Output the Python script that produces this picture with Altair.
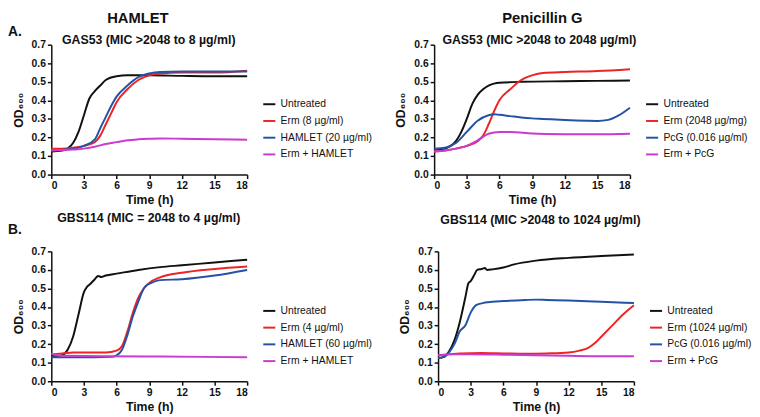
import altair as alt
import pandas as pd

FONT = "Liberation Sans"

# ---------------- Panel A left: GAS53, HAMLET ----------------
a1_untreated_t = [0, 1, 1.5, 2, 2.5, 3, 3.5, 4, 4.5, 5, 6, 7, 8, 9, 12, 15, 18]
a1_untreated_v = [0.125, 0.13, 0.14, 0.17, 0.23, 0.32, 0.41, 0.45, 0.48, 0.51, 0.53, 0.535, 0.535, 0.535, 0.532, 0.53, 0.53]
a1_erm_t = [0, 1, 2, 3, 4, 4.5, 5, 5.5, 6, 7, 8, 9, 10, 12, 15, 18]
a1_erm_v = [0.14, 0.14, 0.145, 0.155, 0.175, 0.21, 0.27, 0.33, 0.39, 0.46, 0.51, 0.535, 0.545, 0.55, 0.55, 0.56]
a1_ham_t = [0, 2, 3, 4, 4.5, 5, 5.5, 6, 7, 8, 9, 10, 12, 15, 18]
a1_ham_v = [0.13, 0.14, 0.155, 0.19, 0.25, 0.31, 0.37, 0.42, 0.48, 0.525, 0.545, 0.553, 0.555, 0.555, 0.555]
a1_combo_t = [0, 2, 3, 4, 5, 6, 7, 8, 9, 10, 12, 15, 18]
a1_combo_v = [0.13, 0.135, 0.14, 0.15, 0.165, 0.175, 0.185, 0.19, 0.193, 0.195, 0.193, 0.19, 0.188]
a1_labels = ["Untreated", "Erm (8 µg/ml)", "HAMLET (20 µg/ml)", "Erm + HAMLET"]

# ---------------- Panel A right: GAS53, Penicillin G ----------------
a2_untreated_t = [0, 1, 2, 2.5, 3, 3.5, 4, 4.5, 5, 5.5, 6, 8, 12, 15, 18]
a2_untreated_v = [0.13, 0.14, 0.18, 0.23, 0.3, 0.38, 0.43, 0.46, 0.48, 0.49, 0.495, 0.5, 0.503, 0.505, 0.507]
a2_erm_t = [0, 1, 2, 3, 4, 4.5, 5, 5.5, 6, 7, 8, 9, 10, 12, 15, 18]
a2_erm_v = [0.125, 0.13, 0.14, 0.155, 0.18, 0.21, 0.27, 0.34, 0.4, 0.46, 0.51, 0.535, 0.548, 0.553, 0.558, 0.568]
a2_pcg_t = [0, 1, 2, 3, 4, 5, 5.5, 6, 7, 8, 9, 10, 12, 14, 15, 16, 17, 18]
a2_pcg_v = [0.14, 0.145, 0.17, 0.23, 0.29, 0.32, 0.325, 0.322, 0.315, 0.308, 0.303, 0.3, 0.294, 0.29, 0.289, 0.295, 0.32, 0.36]
a2_combo_t = [0, 1, 2, 3, 4, 5, 6, 7, 9, 12, 15, 18]
a2_combo_v = [0.125, 0.13, 0.14, 0.155, 0.185, 0.22, 0.23, 0.23, 0.222, 0.218, 0.217, 0.22]
a2_labels = ["Untreated", "Erm (2048 µg/mg)", "PcG (0.016 µg/ml)", "Erm + PcG"]

# ---------------- Panel B left: GBS114, HAMLET ----------------
b1_untreated_t = [0, 0.5, 1, 1.5, 2, 2.5, 3, 3.3, 3.5, 4, 4.3, 4.6, 5, 6, 8, 10, 12, 15, 18]
b1_untreated_v = [0.135, 0.135, 0.14, 0.17, 0.24, 0.36, 0.48, 0.51, 0.52, 0.55, 0.567, 0.562, 0.57, 0.58, 0.6, 0.615, 0.625, 0.64, 0.655]
b1_erm_t = [0, 1, 2, 4, 5, 6, 6.5, 7, 7.5, 8, 8.5, 9, 10, 12, 15, 18]
b1_erm_v = [0.145, 0.15, 0.155, 0.155, 0.155, 0.165, 0.19, 0.27, 0.37, 0.45, 0.5, 0.53, 0.56, 0.585, 0.605, 0.618]
b1_ham_t = [0, 2, 4, 5.5, 6, 6.5, 7, 7.5, 8, 8.5, 8.8, 9, 10, 12, 15, 18]
b1_ham_v = [0.13, 0.13, 0.13, 0.132, 0.14, 0.17, 0.25, 0.35, 0.43, 0.5, 0.52, 0.525, 0.545, 0.55, 0.57, 0.6]
b1_combo_t = [0, 0.5, 1, 5, 10, 18]
b1_combo_v = [0.15, 0.14, 0.137, 0.135, 0.133, 0.13]
b1_labels = ["Untreated", "Erm (4 µg/ml)", "HAMLET (60 µg/ml)", "Erm + HAMLET"]

# ---------------- Panel B right: GBS114, Penicillin G ----------------
b2_untreated_t = [0, 0.5, 1, 1.5, 2, 2.5, 2.8, 3, 3.3, 3.6, 4, 4.3, 4.5, 5, 6, 7, 9, 12, 15, 18]
b2_untreated_v = [0.125, 0.13, 0.16, 0.22, 0.32, 0.45, 0.53, 0.54, 0.57, 0.6, 0.605, 0.61, 0.6, 0.603, 0.613, 0.63, 0.65, 0.665, 0.675, 0.683]
b2_erm_t = [0, 1, 2, 4, 6, 8, 10, 12, 13, 13.8, 14.5, 15, 16, 17, 18]
b2_erm_v = [0.14, 0.145, 0.15, 0.152, 0.15, 0.148, 0.15, 0.155, 0.165, 0.18, 0.21, 0.24, 0.3, 0.36, 0.41]
b2_pcg_t = [0, 0.5, 1, 1.5, 2, 2.5, 3, 3.5, 4, 5, 6, 8, 9, 10, 12, 15, 18]
b2_pcg_v = [0.125, 0.13, 0.155, 0.2, 0.27, 0.3, 0.37, 0.41, 0.42, 0.428, 0.432, 0.438, 0.44, 0.438, 0.435, 0.428, 0.422]
b2_combo_t = [0, 1, 3, 6, 9, 12, 15, 18]
b2_combo_v = [0.14, 0.145, 0.145, 0.143, 0.14, 0.137, 0.135, 0.135]
b2_labels = ["Untreated", "Erm (1024 µg/ml)", "PcG (0.016 µg/ml)", "Erm + PcG"]

COLORS = ["#111111", "#ee2424", "#2453a6", "#c93ccf"]
X_TICKS = [0, 3, 6, 9, 12, 15, 18]
Y_TICKS = [0.0, 0.1, 0.2, 0.3, 0.4, 0.5, 0.6, 0.7]
W, H = 199, 132


def frame(labels, series):
    rows = []
    for lab, (ts, vs) in zip(labels, series):
        for t, v in zip(ts, vs):
            rows.append({"Time": t, "OD": v, "Condition": lab})
    return pd.DataFrame(rows)


def label_layer(text, x, y, size, align="center"):
    return alt.Chart(pd.DataFrame({"txt": [text]})).mark_text(
        font=FONT, fontSize=size, fontWeight="bold", align=align, baseline="middle", color="#111"
    ).encode(text="txt:N", x=alt.value(x), y=alt.value(y))


def panel(df, labels, title, title_x, title_y, header=None, header_x=0, letter=None, letter_y=-16):
    base = alt.Chart(df).mark_line(strokeWidth=2, interpolate="monotone").encode(
        x=alt.X("Time:Q", scale=alt.Scale(domain=[0, 18], nice=False),
                axis=alt.Axis(values=X_TICKS, title="Time (h)")),
        y=alt.Y("OD:Q", scale=alt.Scale(domain=[0, 0.7], nice=False),
                axis=alt.Axis(values=Y_TICKS, format=".1f", title="OD₆₀₀")),
        color=alt.Color("Condition:N", sort=labels,
                        scale=alt.Scale(domain=labels, range=COLORS),
                        legend=alt.Legend(title=None, orient="none", legendX=214, legendY=53,
                                          symbolType="stroke", symbolStrokeWidth=2, symbolSize=150,
                                          labelFont=FONT, labelFontSize=10.5, rowPadding=4,
                                          labelColor="#111")),
        order=alt.Order("Time:Q"),
    )
    layers = [base, label_layer(title, title_x, title_y, 12.5)]
    if header:
        layers.append(label_layer(header, header_x, -27, 15))
    if letter:
        layers.append(label_layer(letter, -44, letter_y, 14, align="left"))
    return alt.layer(*layers).properties(width=W, height=H)


a1 = panel(frame(a1_labels, [(a1_untreated_t, a1_untreated_v), (a1_erm_t, a1_erm_v),
                             (a1_ham_t, a1_ham_v), (a1_combo_t, a1_combo_v)]),
           a1_labels, "GAS53 (MIC >2048 to 8 µg/ml)", 99, -5,
           header="HAMLET", header_x=88, letter="A.", letter_y=-13)
a2 = panel(frame(a2_labels, [(a2_untreated_t, a2_untreated_v), (a2_erm_t, a2_erm_v),
                             (a2_pcg_t, a2_pcg_v), (a2_combo_t, a2_combo_v)]),
           a2_labels, "GAS53 (MIC >2048 to 2048 µg/ml)", 107, -5,
           header="Penicillin G", header_x=110)
b1 = panel(frame(b1_labels, [(b1_untreated_t, b1_untreated_v), (b1_erm_t, b1_erm_v),
                             (b1_ham_t, b1_ham_v), (b1_combo_t, b1_combo_v)]),
           b1_labels, "GBS114 (MIC = 2048 to 4 µg/ml)", 99, -34, letter="B.", letter_y=-22)
b2 = panel(frame(b2_labels, [(b2_untreated_t, b2_untreated_v), (b2_erm_t, b2_erm_v),
                             (b2_pcg_t, b2_pcg_v), (b2_combo_t, b2_combo_v)]),
           b2_labels, "GBS114 (MIC >2048 to 1024 µg/ml)", 104, -32)

row1 = alt.hconcat(a1, a2, spacing=23).resolve_scale(color="independent")
row2 = alt.hconcat(b1, b2, spacing=27).resolve_scale(color="independent")

chart = alt.vconcat(row1, row2, spacing=6).resolve_scale(color="independent").properties(
    padding=0
).configure_view(stroke=None).configure_axis(
    labelFont=FONT, labelFontSize=10.5, labelFontWeight="bold", labelColor="#111",
    titleFont=FONT, titleFontSize=12.5, titleFontWeight="bold", titleColor="#111",
    domainColor="#111", domainWidth=1.5, tickColor="#111", tickWidth=1.5, tickSize=4,
    grid=False, labelPadding=2,
).configure_axisX(labelAngle=0, titlePadding=3).configure_axisY(titlePadding=6)

chart.save("out.html", embed_options={"renderer": "svg", "actions": False})
